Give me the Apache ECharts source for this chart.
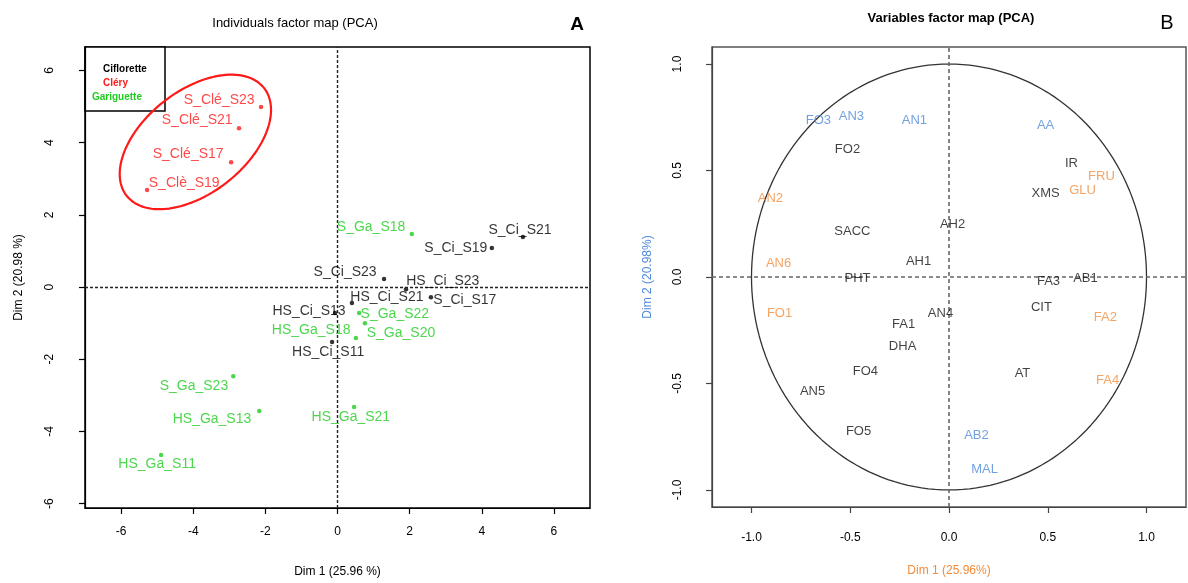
<!DOCTYPE html>
<html>
<head>
<meta charset="utf-8">
<script src="https://cdn.jsdelivr.net/npm/echarts@6/dist/echarts.min.js"></script>
<style>
html, body { margin: 0; padding: 0; background: #fff; }
#main { width: 1188px; height: 583px; }
</style>
</head>
<body>
<div id="main"></div>
<script>
// ---- individuals (panel A) ----
var indNames = ['S_Clé_S23', 'S_Clé_S21', 'S_Clé_S17', 'S_Clè_S19',
    'S_Ga_S18', 'S_Ci_S21', 'S_Ci_S19', 'S_Ci_S23', 'HS_Ci_S23', 'HS_Ci_S21', 'S_Ci_S17',
    'HS_Ci_S13', 'HS_Ci_S11', 'S_Ga_S22', 'S_Ga_S20', 'HS_Ga_S18',
    'S_Ga_S23', 'HS_Ga_S13', 'HS_Ga_S21', 'HS_Ga_S11'];
var indX = [-2.12, -2.73, -2.95, -5.28, 2.06, 5.14, 4.28, 1.29, 1.90, 0.40, 2.59,
    -0.07, -0.15, 0.60, 0.76, 0.51, -2.89, -2.17, 0.46, -4.89];
var indY = [4.99, 4.40, 3.46, 2.69, 1.47, 1.39, 1.08, 0.22, -0.06, -0.44, -0.28,
    -0.72, -1.52, -0.72, -1.00, -1.41, -2.47, -3.43, -3.32, -4.65];
// where each label text sits (data units, as placed by autoLab)
var indLabX = [-3.28, -3.89, -4.14, -4.25, 0.93, 5.06, 3.28, 0.21, 2.92, 1.37, 3.53,
    -0.79, -0.26, 1.59, 1.76, -0.73, -3.98, -3.48, 0.37, -5.00];
var indLabY = [5.18, 4.63, 3.68, 2.88, 1.66, 1.58, 1.08, 0.42, 0.17, -0.28, -0.36,
    -0.66, -1.80, -0.75, -1.27, -1.19, -2.74, -3.66, -3.60, -4.90];
// 0 = Ciflorette, 1 = Cléry, 2 = Gariguette
var indGroup = [1, 1, 1, 1, 2, 0, 0, 0, 0, 0, 0, 0, 0, 2, 2, 2, 2, 2, 2, 2];
var groupNames = ['Ciflorette', 'Cléry', 'Gariguette'];
var groupColors = ['#000000', '#ff1a1a', '#1fcc1f'];

// confidence ellipse round the Cléry samples
var ellCenter = [-3.94, 4.02];
var ellAxes = [2.42, 1.42];
var ellAngle = 38;

var dim1Ticks = [-6, -4, -2, 0, 2, 4, 6];
var dim2Ticks = [-6, -4, -2, 0, 2, 4, 6];

// ---- variables (panel B) ----
var varNames = ['FO3', 'AN3', 'AN1', 'AA', 'FO2', 'IR', 'FRU', 'GLU', 'XMS', 'AN2',
    'AH2', 'SACC', 'AH1', 'AN6', 'PHT', 'FA3', 'AB1', 'FO1', 'AN4', 'CIT',
    'FA2', 'FA1', 'DHA', 'FO4', 'AT', 'FA4', 'AN5', 'FO5', 'AB2', 'MAL'];
var varX = [-0.661, -0.494, -0.175, 0.489, -0.514, 0.620, 0.772, 0.676, 0.489, -0.904,
    0.018, -0.489, -0.154, -0.863, -0.463, 0.504, 0.691, -0.858, -0.043, 0.468,
    0.792, -0.230, -0.235, -0.423, 0.372, 0.803, -0.691, -0.458, 0.139, 0.180];
var varY = [0.734, 0.753, 0.734, 0.711, 0.598, 0.532, 0.471, 0.405, 0.391, 0.367,
    0.249, 0.212, 0.075, 0.066, -0.009, -0.019, -0.005, -0.169, -0.169, -0.141,
    -0.188, -0.221, -0.325, -0.442, -0.452, -0.485, -0.536, -0.725, -0.744, -0.904];
// 0 = black, 1 = blue, 2 = orange
var varGroup = [1, 1, 1, 1, 0, 0, 2, 2, 0, 2,
    0, 0, 0, 2, 0, 0, 0, 2, 0, 0,
    2, 0, 0, 0, 0, 2, 0, 0, 1, 1];
var varColors = ['#111111', '#4f8ad8', '#f28c3c'];

var corTicks = [-1, -0.5, 0, 0.5, 1];

var font = "'Liberation Sans', Arial, sans-serif";

function ellipsePath(c, ab, deg) {
    var t = deg * Math.PI / 180, pts = [];
    for (var i = 0; i <= 120; i++) {
        var u = i / 120 * 2 * Math.PI;
        var ex = ab[0] * Math.cos(u), ey = ab[1] * Math.sin(u);
        pts.push([c[0] + ex * Math.cos(t) - ey * Math.sin(t),
                  c[1] + ex * Math.sin(t) + ey * Math.cos(t)]);
    }
    return pts;
}
function unitCircle() {
    var pts = [];
    for (var i = 0; i <= 180; i++) {
        var u = i / 180 * 2 * Math.PI;
        pts.push([Math.cos(u), Math.sin(u)]);
    }
    return pts;
}

var indPoints = indNames.map(function (n, i) {
    return { name: n, value: [indX[i], indY[i]], itemStyle: { color: groupColors[indGroup[i]] } };
});
var indLabels = indNames.map(function (n, i) {
    return { name: n, value: [indLabX[i], indLabY[i]], label: { color: groupColors[indGroup[i]] } };
});
var varLabels = varNames.map(function (n, i) {
    return { name: n, value: [varX[i], varY[i]], label: { color: varColors[varGroup[i]] } };
});

function axisBase(ticks, fmt) {
    return {
        type: 'value',
        axisLine: { show: true, onZero: false, lineStyle: { color: '#000', width: 1.2 } },
        axisTick: { show: true, length: 6, customValues: ticks, lineStyle: { color: '#000', width: 1.2 } },
        axisLabel: { customValues: ticks, color: '#000', fontFamily: font, fontSize: 12, formatter: fmt },
        splitLine: { show: false },
        nameLocation: 'middle',
        nameTextStyle: { fontFamily: font, fontSize: 12, color: '#000' }
    };
}

var xA = axisBase(dim1Ticks, function (v) { return String(v); });
xA.min = -7; xA.max = 7; xA.gridIndex = 0; xA.position = 'bottom';
xA.name = 'Dim 1 (25.96 %)'; xA.nameGap = 58; xA.axisLabel.margin = 18;

var yA = axisBase(dim2Ticks, function (v) { return String(v); });
yA.min = -6.12; yA.max = 6.65; yA.gridIndex = 0; yA.position = 'left';
yA.name = 'Dim 2 (20.98 %)'; yA.nameGap = 60; yA.axisLabel.rotate = 90; yA.axisLabel.margin = 29;

var xB = axisBase(corTicks, function (v) { return v.toFixed(1); });
xB.min = -1.2; xB.max = 1.2; xB.gridIndex = 1; xB.position = 'bottom';
xB.name = 'Dim 1 (25.96%)'; xB.nameGap = 58; xB.axisLabel.margin = 25;
xB.nameTextStyle.color = '#f28c3c';
xB.axisLine.lineStyle.color = '#444'; xB.axisTick.lineStyle.color = '#444';

var yB = axisBase(corTicks, function (v) { return v.toFixed(1); });
yB.min = -1.08; yB.max = 1.08; yB.gridIndex = 1; yB.position = 'left';
yB.name = 'Dim 2 (20.98%)'; yB.nameGap = 58; yB.axisLabel.rotate = 90; yB.axisLabel.margin = 28;
yB.nameTextStyle.color = '#4f8ad8';
yB.axisLine.lineStyle.color = '#444'; yB.axisTick.lineStyle.color = '#444';

var option = {
    animation: false,
    backgroundColor: '#fff',
    title: [{
        text: 'Individuals factor map (PCA)', left: 290, top: 12, textAlign: 'center',
        textStyle: { fontFamily: font, fontSize: 13, fontWeight: 'normal', color: '#000' }
    }, {
        text: 'A', left: 572, top: 10, textAlign: 'center',
        textStyle: { fontFamily: font, fontSize: 19, fontWeight: 'bold', color: '#000' }
    }, {
        text: 'Variables factor map (PCA)', left: 946, top: 7, textAlign: 'center',
        textStyle: { fontFamily: font, fontSize: 13, fontWeight: 'bold', color: '#000' }
    }, {
        text: 'B', left: 1162, top: 8, textAlign: 'center',
        textStyle: { fontFamily: font, fontSize: 20, fontWeight: 'normal', color: '#000' }
    }],
    grid: [{
        left: 85, top: 47, width: 505, height: 461,
        show: true, borderColor: '#000', borderWidth: 1.5, backgroundColor: 'transparent',
        outerBoundsMode: 'none'
    }, {
        left: 712, top: 47, width: 474, height: 460,
        show: true, borderColor: '#555', borderWidth: 1.5, backgroundColor: 'transparent',
        outerBoundsMode: 'none'
    }],
    xAxis: [xA, xB],
    yAxis: [yA, yB],
    graphic: [{
        type: 'rect', shape: { x: 85, y: 47, width: 80, height: 64 },
        style: { fill: '#fff', stroke: '#000', lineWidth: 1.5 }
    }, {
        type: 'text', left: 103, top: 64,
        style: { text: groupNames[0], fill: groupColors[0], font: 'bold 10px ' + font }
    }, {
        type: 'text', left: 103, top: 78,
        style: { text: groupNames[1], fill: groupColors[1], font: 'bold 10px ' + font }
    }, {
        type: 'text', left: 92, top: 92,
        style: { text: groupNames[2], fill: groupColors[2], font: 'bold 10px ' + font }
    }],
    series: [{
        type: 'line', xAxisIndex: 0, yAxisIndex: 0,
        data: ellipsePath(ellCenter, ellAxes, ellAngle),
        showSymbol: false, smooth: false, silent: true,
        lineStyle: { color: '#ff1a1a', width: 2.2 }, z: 3
    }, {
        type: 'scatter', xAxisIndex: 0, yAxisIndex: 0,
        data: indPoints, symbolSize: 4.5, z: 4,
        markLine: {
            silent: true, symbol: 'none', label: { show: false },
            lineStyle: { color: '#222', width: 1.4, type: [3, 2] },
            data: [{ xAxis: 0 }, { yAxis: 0 }]
        }
    }, {
        type: 'scatter', xAxisIndex: 0, yAxisIndex: 0,
        data: indLabels, symbolSize: 0, silent: true, z: 5,
        label: { show: true, position: 'inside', formatter: '{b}', fontFamily: font, fontSize: 14 }
    }, {
        type: 'line', xAxisIndex: 1, yAxisIndex: 1,
        data: unitCircle(), showSymbol: false, silent: true,
        lineStyle: { color: '#333', width: 1.3 }, z: 3,
        markLine: {
            silent: true, symbol: 'none', label: { show: false },
            lineStyle: { color: '#666', width: 1.6, type: [4, 3] },
            data: [{ xAxis: 0 }, { yAxis: 0 }]
        }
    }, {
        type: 'scatter', xAxisIndex: 1, yAxisIndex: 1,
        data: varLabels, symbolSize: 0, silent: true, z: 5,
        label: { show: true, position: 'inside', formatter: '{b}', fontFamily: font, fontSize: 13 }
    }]
};

var myChart = echarts.init(document.getElementById('main'));
myChart.setOption(option);
</script>
</body>
</html>
